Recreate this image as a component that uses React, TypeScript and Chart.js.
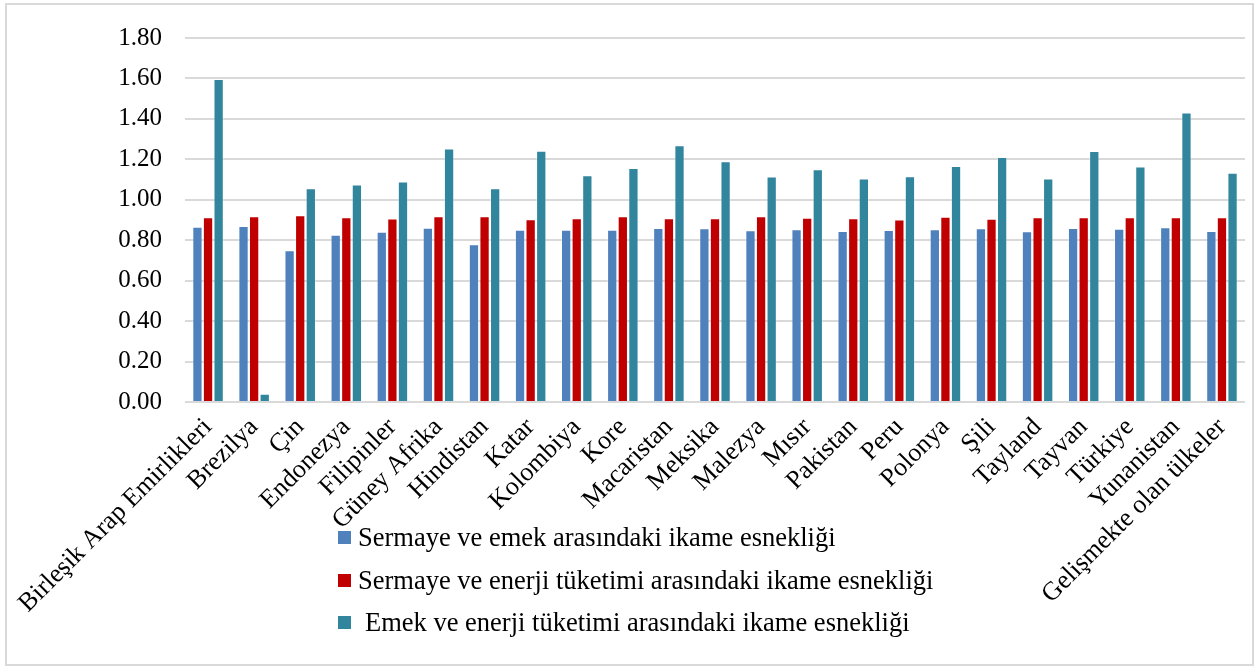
import React, { useEffect, useRef } from "react";
import { Chart, registerables } from "chart.js";

Chart.register(...registerables);

const categories = [
  "Birleşik Arap Emirlikleri", "Brezilya", "Çin", "Endonezya", "Filipinler", "Güney Afrika",
  "Hindistan", "Katar", "Kolombiya", "Kore", "Macaristan", "Meksika", "Malezya", "Mısır",
  "Pakistan", "Peru", "Polonya", "Şili", "Tayland", "Tayvan", "Türkiye", "Yunanistan",
  "Gelişmekte olan ülkeler",
];

const sermayeEmek = [
  0.867, 0.870, 0.750, 0.827, 0.842, 0.862, 0.780, 0.852, 0.852, 0.852, 0.860, 0.859,
  0.849, 0.854, 0.845, 0.850, 0.854, 0.859, 0.844, 0.860, 0.857, 0.864, 0.845,
];
const sermayeEnerji = [
  0.914, 0.918, 0.923, 0.914, 0.908, 0.918, 0.919, 0.904, 0.909, 0.918, 0.909, 0.909,
  0.918, 0.911, 0.909, 0.903, 0.916, 0.906, 0.913, 0.914, 0.914, 0.913, 0.913,
];
const emekEnerji = [
  1.597, 0.041, 1.057, 1.075, 1.090, 1.254, 1.057, 1.243, 1.121, 1.157, 1.270, 1.190,
  1.115, 1.151, 1.105, 1.116, 1.167, 1.211, 1.105, 1.241, 1.165, 1.431, 1.134,
];

const seriesNames = [
  "Sermaye ve emek arasındaki ikame esnekliği",
  "Sermaye ve enerji tüketimi arasındaki ikame esnekliği",
  "Emek ve enerji tüketimi arasındaki ikame esnekliği",
];
const seriesColors = ["#4f81bd", "#c00000", "#31859c"];

const FONT = "'Liberation Serif', 'Times New Roman', serif";

export default function App() {
  const canvasRef = useRef<HTMLCanvasElement | null>(null);

  useEffect(() => {
    const canvas = canvasRef.current;
    if (!canvas) return;
    const data = [sermayeEmek, sermayeEnerji, emekEnerji];
    const chart = new Chart(canvas, {
      type: "bar",
      data: {
        labels: categories,
        datasets: data.map((d, i) => ({
          label: seriesNames[i],
          data: d,
          backgroundColor: seriesColors[i],
          borderColor: "rgba(255,255,255,0.3)",
          borderWidth: 1,
          categoryPercentage: 0.69,
          barPercentage: 0.97,
        })),
      },
      options: {
        animation: false,
        responsive: false,
        maintainAspectRatio: false,
        layout: { padding: { left: 0, right: 15, top: 36, bottom: 0 } },
        plugins: {
          legend: { display: false },
          tooltip: { enabled: false },
        },
        scales: {
          x: {
            grid: { display: false, drawTicks: false },
            border: { display: false },
            ticks: {
              autoSkip: false,
              minRotation: 45,
              maxRotation: 45,
              padding: 10,
              color: "#000",
              font: { family: FONT, size: 26 },
            },
            afterFit: (scale: any) => {
              scale.height = 669 - 402;
            },
          },
          y: {
            min: 0,
            max: 1.8,
            grid: { color: "#d9d9d9", lineWidth: 2, drawTicks: false },
            border: { display: false },
            ticks: {
              stepSize: 0.2,
              padding: 23,
              color: "#000",
              font: { family: FONT, size: 25 },
              callback: (v: any) => Number(v).toFixed(2),
            },
            afterFit: (scale: any) => {
              scale.width = 185;
            },
          },
        },
      },
    });
    return () => chart.destroy();
  }, []);

  const rowTops = [521, 564, 606];

  return (
    <div
      style={{
        position: "absolute",
        left: 0,
        top: 0,
        width: 1260,
        height: 669,
        background: "#fff",
        overflow: "hidden",
      }}
    >
      <div
        style={{
          position: "absolute",
          left: 5,
          top: 3,
          width: 1245,
          height: 659,
          border: "2px solid #d9d9d9",
        }}
      />
      <canvas
        ref={canvasRef}
        width={1260}
        height={669}
        style={{ position: "absolute", left: 0, top: 0, width: 1260, height: 669 }}
      />
      {seriesNames.map((name, i) => (
        <div
          key={name}
          style={{
            position: "absolute",
            left: 338,
            top: rowTops[i],
            height: 32,
            display: "flex",
            alignItems: "center",
            fontFamily: FONT,
            fontSize: 26.5,
            color: "#000",
            whiteSpace: "nowrap",
          }}
        >
          <span
            style={{
              display: "inline-block",
              width: 13,
              height: 13,
              background: seriesColors[i],
              marginRight: i === 2 ? 14 : 7,
            }}
          />
          <span>{name}</span>
        </div>
      ))}
    </div>
  );
}
